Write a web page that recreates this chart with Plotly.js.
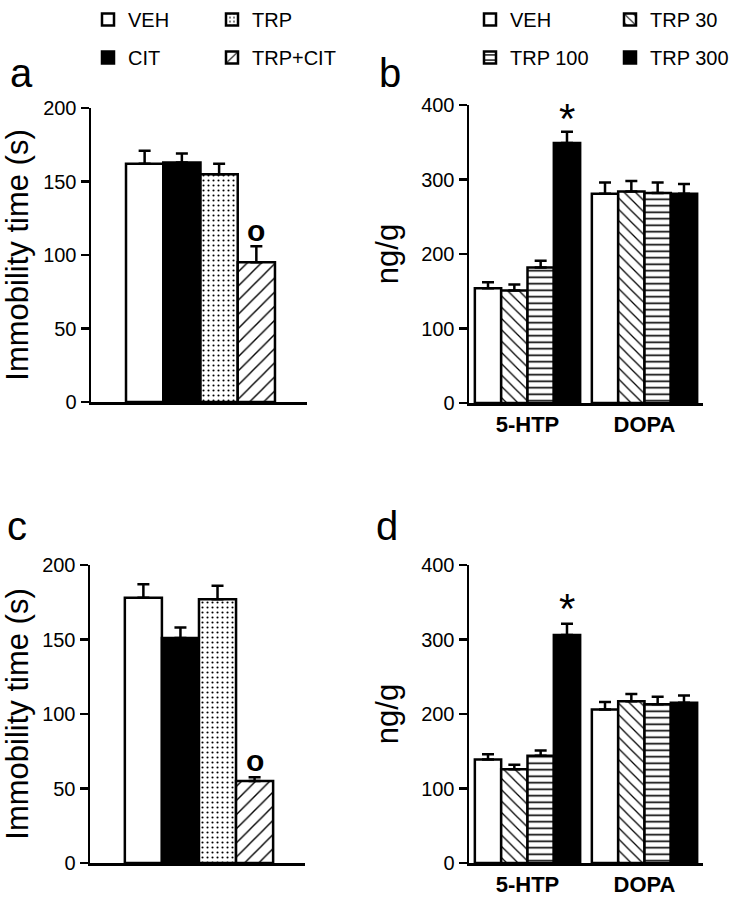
<!DOCTYPE html>
<html>
<head>
<meta charset="utf-8">
<script src="https://cdn.plot.ly/plotly-3.0.1.min.js"></script>
<style>html,body{margin:0;padding:0;background:#fff;}#chart{width:740px;height:899px;}</style>
</head>
<body>
<div id="chart"></div>
<script>
// ---------- data ----------
const treatmentsAC = ['VEH', 'CIT', 'TRP', 'TRP+CIT'];
const immobilityA = [162, 163, 155, 95];
const immobilitySemA = [9, 6, 7, 11];
const immobilityC = [178, 151, 177, 55];
const immobilitySemC = [9, 7, 9, 2.5];

const analytes = ['5-HTP', 'DOPA'];
const dosesBD = ['VEH', 'TRP 30', 'TRP 100', 'TRP 300'];
const levelsB = [[154, 281], [151, 284], [182, 282], [349, 281]];
const levelsSemB = [[8, 15], [8, 14], [9, 14], [15, 13]];
const levelsD = [[139, 206], [126, 217], [144, 213], [306, 215]];
const levelsSemD = [[7, 10], [6, 10], [7, 10], [15, 10]];

// significance marks (panel, category, series, value)
const markA = {text: 'o', cat: 'TRP+CIT', y: 117};
const markC = {text: 'o', cat: 'TRP+CIT', y: 69};
const markB = {text: '*', series: 3, cat: 0, y: 392};
const markD = {text: '*', series: 3, cat: 0, y: 352};

// ---------- styles ----------
const FONT = 'Liberation Sans, Arial, Helvetica, sans-serif';
const LW = 2.5;
const styles = {
  'VEH':     {color: 'white'},
  'CIT':     {color: 'black'},
  'TRP':     {color: 'white', pattern: {shape: '.', size: 5, solidity: 0.14}},
  'TRP+CIT': {color: 'white', pattern: {shape: '/', size: 10, solidity: 0.14}},
  'TRP 30':  {color: 'white', pattern: {shape: '\\', size: 8, solidity: 0.16}},
  'TRP 100': {color: 'white', pattern: {shape: '-', size: 6.5, solidity: 0.25}},
  'TRP 300': {color: 'black'}
};
function markerFor(name) {
  const s = styles[name];
  const m = {color: s.color, line: {color: 'black', width: LW}};
  if (s.pattern) {
    m.pattern = Object.assign({fgcolor: 'black', bgcolor: 'white', fillmode: 'replace'}, s.pattern);
  }
  return m;
}
function errBar(arr) {
  return {type: 'data', array: arr, arrayminus: arr.map(() => 0), symmetric: false,
          color: 'black', thickness: LW, width: 6, visible: true};
}

const traces = [];
const legendAC = {'VEH': 'legend', 'CIT': 'legend', 'TRP': 'legend2', 'TRP+CIT': 'legend2'};
const legendBD = {'VEH': 'legend3', 'TRP 30': 'legend4', 'TRP 100': 'legend3', 'TRP 300': 'legend4'};

// panels a and c
[[immobilityA, immobilitySemA, 'x', 'y', true], [immobilityC, immobilitySemC, 'x3', 'y3', false]].forEach(p => {
  treatmentsAC.forEach((t, i) => {
    traces.push({
      type: 'bar', name: t, x: [t], y: [p[0][i]], error_y: errBar([p[1][i]]),
      xaxis: p[2], yaxis: p[3], offsetgroup: 'g' + p[2], width: 1,
      marker: markerFor(t), showlegend: p[4], legend: legendAC[t], legendgroup: t,
      hoverinfo: 'y+name'
    });
  });
});
// panels b and d
[[levelsB, levelsSemB, 'x2', 'y2', true], [levelsD, levelsSemD, 'x4', 'y4', false]].forEach(p => {
  dosesBD.forEach((d, i) => {
    traces.push({
      type: 'bar', name: d, x: analytes, y: p[0][i], error_y: errBar(p[1][i]),
      xaxis: p[2], yaxis: p[3],
      marker: markerFor(d), showlegend: p[4], legend: legendBD[d], legendgroup: 'bd' + d,
      hoverinfo: 'y+name'
    });
  });
});

const BARGAP = 0.1;
function groupOffset(series) {
  const w = (1 - BARGAP) / dosesBD.length;
  return -(1 - BARGAP) / 2 + w * (series + 0.5);
}

function xAxisAC(domain) {
  return {domain: domain, type: 'category', categoryarray: treatmentsAC, range: [-1.44, 4.36],
          showline: true, linewidth: LW, linecolor: 'black', ticks: '', showticklabels: false,
          showgrid: false, zeroline: false, fixedrange: true};
}
function xAxisBD(domain) {
  return {domain: domain, type: 'category', categoryarray: analytes, range: [-0.5, 1.5],
          showline: true, linewidth: LW, linecolor: 'black', ticks: '',
          tickfont: {family: FONT, size: 22, color: 'black', weight: 'bold'},
          ticklabelstandoff: 0,
          showgrid: false, zeroline: false, fixedrange: true};
}
function yAxis(domain, max, dtick, title, standoff) {
  return {domain: domain, range: [0, max], dtick: dtick, tick0: 0,
          showline: true, linewidth: LW, linecolor: 'black', ticks: 'outside', ticklen: 8,
          tickwidth: LW, tickcolor: 'black',
          tickfont: {family: FONT, size: 20, color: 'black'},
          showgrid: false, zeroline: false, fixedrange: true,
          title: {text: title, font: {family: FONT, size: 31, color: 'black'}, standoff: standoff}};
}
function legendAt(xpx) {
  return {x: xpx / 740, y: 1, xanchor: 'left', yanchor: 'top', orientation: 'v',
          font: {family: FONT, size: 20, color: 'black'}, tracegroupgap: 9,
          bgcolor: 'rgba(0,0,0,0)', borderwidth: 0, itemclick: false, itemdoubleclick: false};
}

const annFont = {family: FONT, color: 'black'};
const annotations = [
  {text: 'a', xref: 'paper', yref: 'paper', x: 8 / 740, y: 1 - 73 / 899, xanchor: 'left', yanchor: 'middle', showarrow: false, font: Object.assign({size: 40}, annFont)},
  {text: 'b', xref: 'paper', yref: 'paper', x: 377 / 740, y: 1 - 73 / 899, xanchor: 'left', yanchor: 'middle', showarrow: false, font: Object.assign({size: 40}, annFont)},
  {text: 'c', xref: 'paper', yref: 'paper', x: 5 / 740, y: 1 - 526 / 899, xanchor: 'left', yanchor: 'middle', showarrow: false, font: Object.assign({size: 40}, annFont)},
  {text: 'd', xref: 'paper', yref: 'paper', x: 374 / 740, y: 1 - 526 / 899, xanchor: 'left', yanchor: 'middle', showarrow: false, font: Object.assign({size: 40}, annFont)},
  {text: markA.text, xref: 'x', yref: 'y', x: treatmentsAC.indexOf(markA.cat), y: markA.y, showarrow: false, yanchor: 'middle', font: Object.assign({size: 30, weight: 'bold'}, annFont)},
  {text: markC.text, xref: 'x3', yref: 'y3', x: treatmentsAC.indexOf(markC.cat), y: markC.y, showarrow: false, yanchor: 'middle', font: Object.assign({size: 30, weight: 'bold'}, annFont)},
  {text: markB.text, xref: 'x2', yref: 'y2', x: markB.cat + groupOffset(markB.series), y: markB.y, showarrow: false, yanchor: 'middle', yshift: -8, font: Object.assign({size: 42}, annFont)},
  {text: markD.text, xref: 'x4', yref: 'y4', x: markD.cat + groupOffset(markD.series), y: markD.y, showarrow: false, yanchor: 'middle', yshift: -8, font: Object.assign({size: 42}, annFont)}
];

const layout = {
  width: 740, height: 899,
  margin: {l: 0, r: 0, t: 0, b: 0},
  paper_bgcolor: 'white', plot_bgcolor: 'white',
  font: {family: FONT, color: 'black'},
  barmode: 'group', bargap: BARGAP, bargroupgap: 0,
  showlegend: true,
  xaxis: Object.assign(xAxisAC([91 / 740, 307 / 740]), {anchor: 'y'}),
  yaxis: Object.assign(yAxis([1 - 402 / 899, 1 - 108 / 899], 200, 50, 'Immobility time (s)', 8), {anchor: 'x'}),
  xaxis2: Object.assign(xAxisBD([469 / 740, 703 / 740]), {anchor: 'y2'}),
  yaxis2: Object.assign(yAxis([1 - 403 / 899, 1 - 105 / 899], 400, 100, 'ng/g', 14), {anchor: 'x2'}),
  xaxis3: Object.assign(xAxisAC([90 / 740, 305 / 740]), {anchor: 'y3'}),
  yaxis3: Object.assign(yAxis([1 - 863 / 899, 1 - 565 / 899], 200, 50, 'Immobility time (s)', 8), {anchor: 'x3'}),
  xaxis4: Object.assign(xAxisBD([469 / 740, 703 / 740]), {anchor: 'y4'}),
  yaxis4: Object.assign(yAxis([1 - 863 / 899, 1 - 565 / 899], 400, 100, 'ng/g', 14), {anchor: 'x4'}),
  legend: legendAt(88),
  legend2: legendAt(212),
  legend3: legendAt(470),
  legend4: legendAt(610),
  annotations: annotations
};

Plotly.newPlot('chart', traces, layout, {displayModeBar: false, staticPlot: true});
</script>
</body>
</html>
